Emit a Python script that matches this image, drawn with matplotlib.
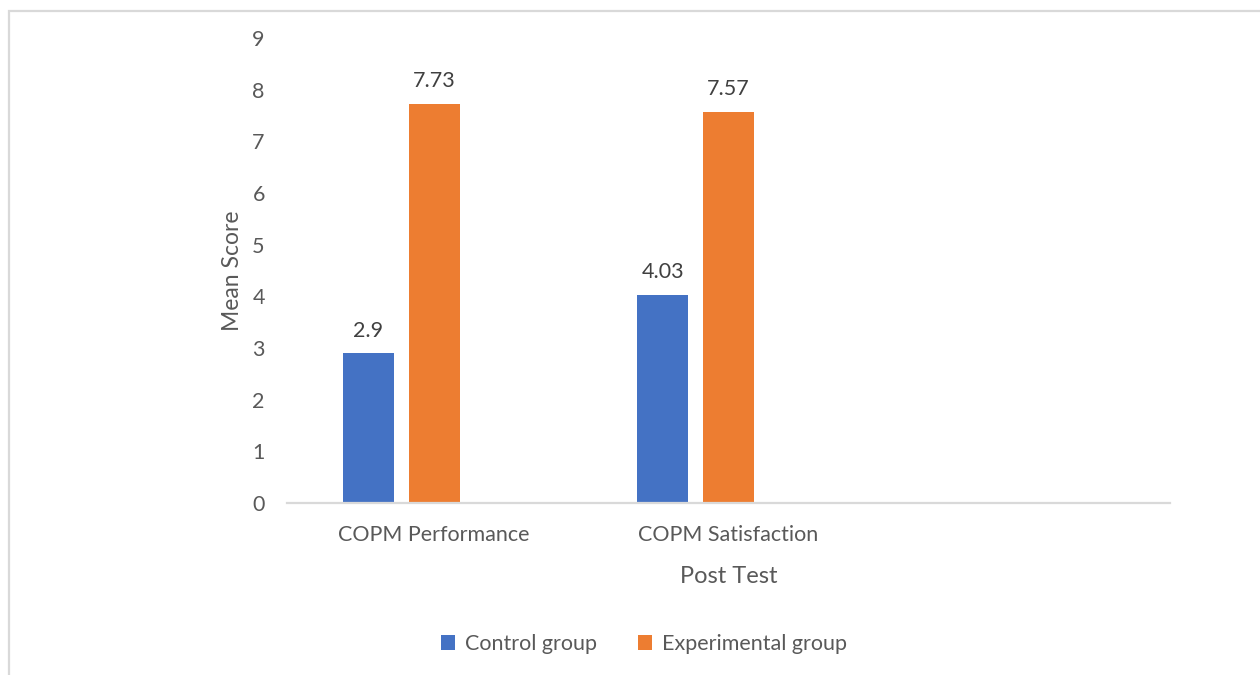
import matplotlib
matplotlib.use("Agg")
import matplotlib.pyplot as plt
from matplotlib.patches import Rectangle

# Post-test mean scores
categories = ["COPM Performance", "COPM Satisfaction", ""]
control_scores = [2.9, 4.03, None]
experimental_scores = [7.73, 7.57, None]
series_names = ["Control group", "Experimental group"]
y_ticks = list(range(0, 10))

BLUE = "#4472C4"
ORANGE = "#ED7D31"
TICK_GREY = "#595959"
LABEL_DARK = "#404040"
LINE_GREY = "#D9D9D9"

plt.rcParams["font.family"] = ["Lato", "DejaVu Sans"]

W, H = 1260, 675
fig = plt.figure(figsize=(W / 100, H / 100), dpi=100)

# light frame around the chart area
fig.patches.append(Rectangle((9 / W, -0.1), 1.2, (H - 11) / H + 0.1,
                             transform=fig.transFigure, fill=False,
                             edgecolor=LINE_GREY, linewidth=1.6))

ax = fig.add_axes([287 / W, (H - 503) / H, (1170 - 287) / W, (503 - 38) / H])

bar_w = 0.173
offset = 0.224
x = list(range(len(categories)))

def draw_series(values, shift, color, name):
    xs = [xi + shift for xi, v in zip(x, values) if v is not None]
    vs = [v for v in values if v is not None]
    bars = ax.bar(xs, vs, width=bar_w, color=color, label=name, zorder=3)
    for b, v in zip(bars, vs):
        ax.annotate(f"{v:g}", (b.get_x() + b.get_width() / 2, v),
                    xytext=(0, 9), textcoords="offset points",
                    ha="center", va="bottom", fontsize=15.5, color=LABEL_DARK)

draw_series(control_scores, -offset, BLUE, series_names[0])
draw_series(experimental_scores, 0.0, ORANGE, series_names[1])

ax.set_xlim(-0.5, 2.5)
ax.set_ylim(0, 9)
ax.set_yticks(y_ticks)
ax.set_xticks(x)
ax.set_xticklabels(categories)

for side in ("top", "right", "left"):
    ax.spines[side].set_visible(False)
ax.spines["bottom"].set_color(LINE_GREY)
ax.spines["bottom"].set_linewidth(1.6)
ax.spines["bottom"].set_zorder(4)

ax.tick_params(axis="both", length=0, labelsize=15.5, labelcolor=TICK_GREY)
ax.tick_params(axis="y", pad=16)
ax.tick_params(axis="x", pad=16)

ax.set_ylabel("Mean Score", fontsize=16.5, color=TICK_GREY, labelpad=7)
ax.set_xlabel("Post Test", fontsize=17, color=TICK_GREY, labelpad=15)

leg = fig.legend(loc="center", bbox_to_anchor=(644 / W, (H - 644) / H),
                 ncol=2, frameon=False, fontsize=15.5, handlelength=0.65,
                 handleheight=0.65, handletextpad=0.45, columnspacing=1.9)
for t in leg.get_texts():
    t.set_color(TICK_GREY)

fig.savefig("out.png", dpi=100)
